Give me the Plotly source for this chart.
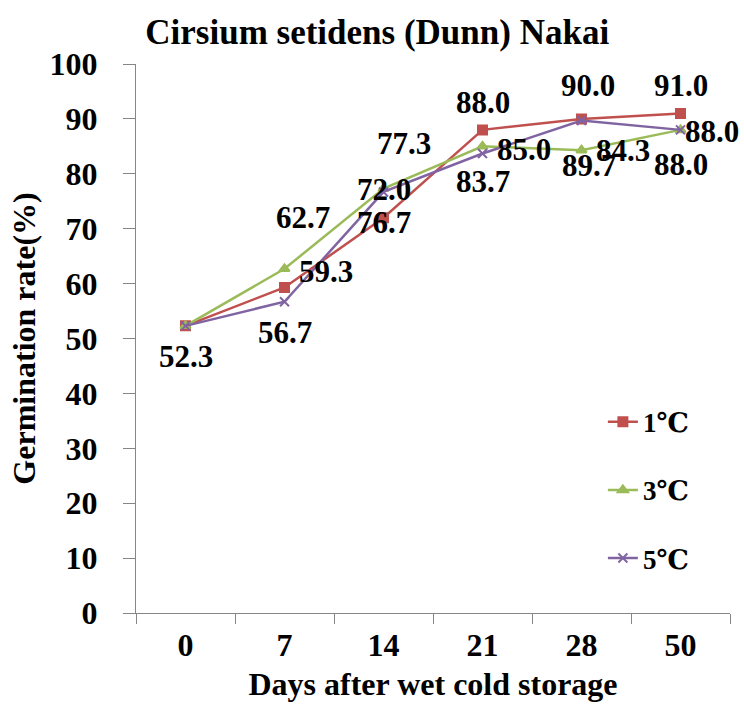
import plotly.graph_objects as go

# Germination rate (%) after wet cold storage at three temperatures
days = ["0", "7", "14", "21", "28", "50"]
rate_1c = [52.3, 59.3, 72.0, 88.0, 90.0, 91.0]
rate_3c = [52.3, 62.7, 77.3, 85.0, 84.3, 88.0]
rate_5c = [52.3, 56.7, 76.7, 83.7, 89.7, 88.0]
series_names = ["1℃", "3℃", "5℃"]

# label offsets in pixels (dx, dy); None hides the label for that point
label_offsets = {
    "1℃": [None, (41, 16), (0, 28), (0, 27), (6, 33), (0, 28)],
    "3℃": [None, (18, 51), (20, 45), (41, -3), (41, 0), (31, -2)],
    "5℃": [(0, -31), (0, -31), (0, -31), (0, -28), (7, -45), (0, -35)],
}

colors = ["#C0504D", "#9BBB59", "#8064A2"]
symbols = ["square", "triangle-up", "x-thin"]
serif = "Liberation Serif, Times New Roman, DejaVu Serif, serif"

fig = go.Figure()
annotations = []
for name, values, color, symbol in zip(series_names, [rate_1c, rate_3c, rate_5c], colors, symbols):
    fig.add_trace(go.Scatter(
        x=days, y=values, name=name, mode="lines+markers",
        line=dict(color=color, width=2.5),
        marker=dict(symbol=symbol, size=9, color=color,
                    line=dict(color=color, width=2)),
        legendgroup=name,
    ))
    # category positions are addressed by index on the category axis
    for i, (v, off) in enumerate(zip(values, label_offsets[name])):
        if off is None:
            continue
        annotations.append(dict(
            x=i, y=v, xref="x", yref="y", text=f"{v:.1f}", showarrow=False,
            xshift=off[0], yshift=off[1],
            font=dict(family=serif, size=31, color="black", weight="bold"),
        ))

fig.update_layout(
    width=744, height=715,
    margin=dict(l=136, r=14, t=64, b=102),
    paper_bgcolor="white", plot_bgcolor="white",
    title=dict(text="Cirsium setidens (Dunn) Nakai", x=0.507, xref="container",
               xanchor="center", y=1 - 32 / 715, yanchor="middle",
               font=dict(family=serif, size=35, color="black", weight="bold")),
    annotations=annotations,
    legend=dict(x=0.786, y=0.392, xanchor="left", yanchor="top",
                font=dict(family=serif, size=27, color="black", weight="bold"),
                tracegroupgap=30, bgcolor="rgba(0,0,0,0)"),
    showlegend=True,
)

fig.update_xaxes(
    type="category", categoryorder="array", categoryarray=days,
    range=[-0.5, len(days) - 0.5], autorange=False,
    tickson="boundaries", ticks="outside", ticklen=10, tickcolor="#868686",
    showline=True, linecolor="#868686", linewidth=1, showgrid=False,
    tickangle=0,
    tickfont=dict(family=serif, size=32, color="black", weight="bold"),
    ticklabelstandoff=4,
    title=dict(text="Days after wet cold storage", standoff=10,
               font=dict(family=serif, size=32, color="black", weight="bold")),
)
fig.update_yaxes(
    range=[0, 100], dtick=10, ticks="outside", ticklen=12, tickcolor="#868686",
    showline=True, linecolor="#868686", linewidth=1, showgrid=False, zeroline=False,
    tickfont=dict(family=serif, size=32, color="black", weight="bold"),
    ticklabelstandoff=19,
    title=dict(text="Germination rate(%)", standoff=4,
               font=dict(family=serif, size=32, color="black", weight="bold")),
)

fig.write_html("out.html")
